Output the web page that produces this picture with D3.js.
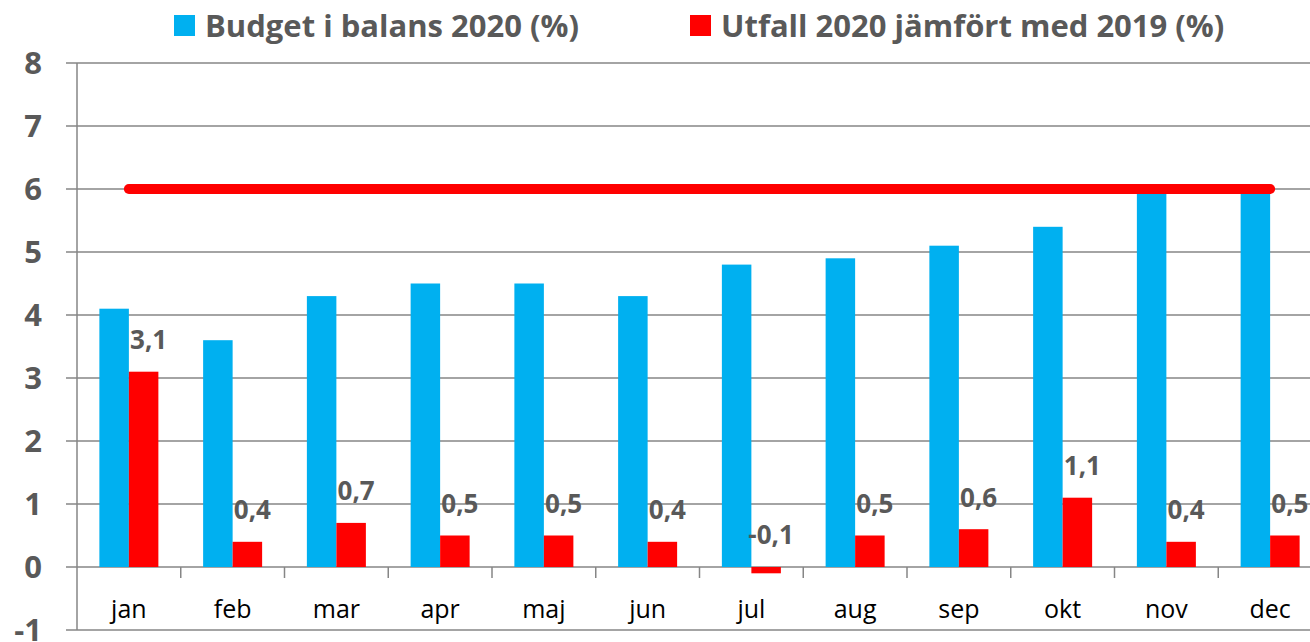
<!DOCTYPE html>
<html>
<head>
<meta charset="utf-8">
<script src="https://cdn.jsdelivr.net/npm/d3@7"></script>
<style>
  body { margin: 0; background: #fff; }
  svg { display: block; font-family: "Open Sans", "Noto Sans", sans-serif; }
</style>
</head>
<body>
<svg id="my_dataviz" width="1310" height="642"></svg>
<script>
// data
var months = ["jan", "feb", "mar", "apr", "maj", "jun", "jul", "aug", "sep", "okt", "nov", "dec"]
var budget = [4.1, 3.6, 4.3, 4.5, 4.5, 4.3, 4.8, 4.9, 5.1, 5.4, 6.0, 6.0]
var utfall = [3.1, 0.4, 0.7, 0.5, 0.5, 0.4, -0.1, 0.5, 0.6, 1.1, 0.4, 0.5]
var target = 6
var yTicks = [-1, 0, 1, 2, 3, 4, 5, 6, 7, 8]
var seriesNames = ["Budget i balans 2020 (%)", "Utfall 2020 jämfört med 2019 (%)"]

var svg = d3.select("svg")

// plot area (window.top is reserved, so no "top" here)
var plotLeft = 77, plotRight = 1322, plotTop = 63, plotBottom = 630

var x = d3.scaleBand()
    .domain(months)
    .range([plotLeft, plotRight])

var y = d3.scaleLinear()
    .domain([-1, 8])
    .range([plotBottom, plotTop])

var barW = 29.5
var grey = "#868686"
var txt = "#595959"

// gridlines
svg.append("g")
    .selectAll("line")
    .data(yTicks)
    .enter()
    .append("line")
    .attr("x1", plotLeft - 11)
    .attr("x2", 1310)
    .attr("y1", function (d) { return y(d) })
    .attr("y2", function (d) { return y(d) })
    .style("stroke", grey)
    .style("stroke-width", 1.5)

// y axis line
svg.append("line")
    .attr("x1", plotLeft).attr("x2", plotLeft)
    .attr("y1", y(8)).attr("y2", y(-1))
    .style("stroke", grey)
    .style("stroke-width", 1.5)

// y labels
svg.append("g")
    .selectAll("text")
    .data(yTicks)
    .enter()
    .append("text")
    .attr("x", 42)
    .attr("y", function (d) { return y(d) })
    .attr("dy", "0.36em")
    .attr("text-anchor", "end")
    .attr("fill", txt)
    .style("font-size", "31px")
    .style("font-weight", "bold")
    .text(function (d) { return d })

// x ticks at band boundaries
svg.append("g")
    .selectAll("line")
    .data(months.slice(1))
    .enter()
    .append("line")
    .attr("x1", function (d) { return x(d) })
    .attr("x2", function (d) { return x(d) })
    .attr("y1", y(0))
    .attr("y2", y(0) + 11)
    .style("stroke", grey)
    .style("stroke-width", 1.5)

// bars
var g = svg.append("g")
g.selectAll(".budget")
    .data(budget)
    .enter()
    .append("rect")
    .attr("class", "budget")
    .attr("x", function (d, i) { return x(months[i]) + x.bandwidth() / 2 - barW })
    .attr("width", barW)
    .attr("y", function (d) { return y(d) })
    .attr("height", function (d) { return y(0) - y(d) })
    .attr("fill", "#00B0F0")

g.selectAll(".utfall")
    .data(utfall)
    .enter()
    .append("rect")
    .attr("class", "utfall")
    .attr("x", function (d, i) { return x(months[i]) + x.bandwidth() / 2 })
    .attr("width", barW)
    .attr("y", function (d) { return y(Math.max(d, 0)) })
    .attr("height", function (d) { return Math.abs(y(0) - y(d)) })
    .attr("fill", "#FF0000")

// target line
svg.append("line")
    .attr("x1", x(months[0]) + x.bandwidth() / 2)
    .attr("x2", x(months[11]) + x.bandwidth() / 2)
    .attr("y1", y(target))
    .attr("y2", y(target))
    .style("stroke", "#FF0000")
    .style("stroke-width", 10)
    .style("stroke-linecap", "round")

// data labels
svg.append("g")
    .selectAll("text")
    .data(utfall)
    .enter()
    .append("text")
    .attr("x", function (d, i) { return x(months[i]) + x.bandwidth() / 2 + barW / 2 + 5 })
    .attr("y", function (d) { return y(Math.max(d, 0)) - 32 })
    .attr("dy", "0.36em")
    .attr("text-anchor", "middle")
    .attr("fill", txt)
    .style("font-size", "26px")
    .style("font-weight", "bold")
    .text(function (d) { return String(d).replace(".", ",") })

// category labels
svg.append("g")
    .selectAll("text")
    .data(months)
    .enter()
    .append("text")
    .attr("x", function (d) { return x(d) + x.bandwidth() / 2 })
    .attr("y", 618)
    .attr("text-anchor", "middle")
    .attr("fill", "#000")
    .style("font-size", "25px")
    .text(function (d) { return d })

// legend
var legendX = [174, 690]
var colors = ["#00B0F0", "#FF0000"]
var leg = svg.append("g")
    .selectAll("g")
    .data(seriesNames)
    .enter()
    .append("g")
    .attr("transform", function (d, i) { return "translate(" + legendX[i] + ",0)" })
leg.append("rect")
    .attr("x", 0).attr("y", 15)
    .attr("width", 21).attr("height", 21)
    .attr("fill", function (d, i) { return colors[i] })
leg.append("text")
    .attr("x", 31)
    .attr("y", 26)
    .attr("dy", "0.36em")
    .attr("fill", txt)
    .style("font-size", "31px")
    .style("font-weight", "bold")
    .text(function (d) { return d })
</script>
</body>
</html>
